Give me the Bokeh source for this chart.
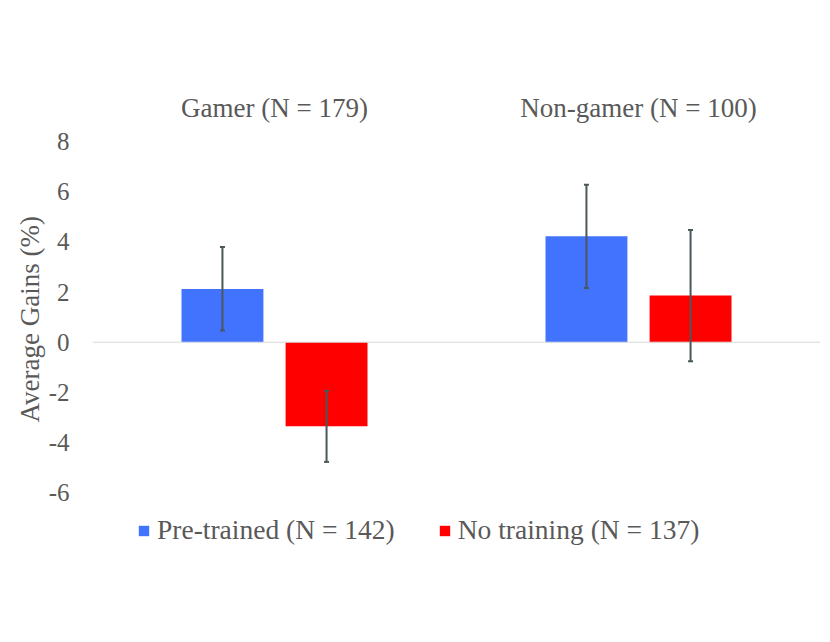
from bokeh.plotting import figure
from bokeh.models import (ColumnDataSource, FactorRange, Range1d, FixedTicker, Span,
                          Whisker, TeeHead, Legend, LegendItem, Title)
from bokeh.transform import dodge
from bokeh.embed import file_html
from bokeh.resources import INLINE

groups = ["Gamer (N = 179)", "Non-gamer (N = 100)"]
pretrained = [2.12, 4.22]
pretrained_lo = [0.47, 2.16]
pretrained_hi = [3.80, 6.28]
notraining = [-3.35, 1.86]
notraining_lo = [-4.77, -0.76]
notraining_hi = [-1.94, 4.47]
series_labels = ["Pre-trained (N = 142)", "No training (N = 137)"]
yticks = [-6, -4, -2, 0, 2, 4, 6, 8]
y_title = "Average Gains (%)"

FONT = "Liberation Serif"
TXT = "#595959"
BLUE = "#4173FF"
RED = "#FF0000"
ERR = "#4B5759"

src = ColumnDataSource(dict(
    g=groups, pt=pretrained, ptlo=pretrained_lo, pthi=pretrained_hi,
    nt=notraining, ntlo=notraining_lo, nthi=notraining_hi))

p = figure(width=828, height=640, x_range=FactorRange(*groups), y_range=Range1d(-8.7, 8),
           output_backend="svg", toolbar_location=None, x_axis_location="above",
           min_border_left=92, min_border_right=8, min_border_top=141, min_border_bottom=80)
p.outline_line_color = None
p.grid.visible = False
p.background_fill_color = "white"

off = 0.143
w = 0.225
r1 = p.vbar(x=dodge("g", -off, range=p.x_range), top="pt", bottom=0, width=w, source=src,
            fill_color=BLUE, line_color=None)
r2 = p.vbar(x=dodge("g", off, range=p.x_range), top="nt", bottom=0, width=w, source=src,
            fill_color=RED, line_color=None)

p.add_layout(Span(location=0, dimension="width", line_color="#D9D9D9", line_width=1))

for base, lo, hi in [(-off, "ptlo", "pthi"), (off, "ntlo", "nthi")]:
    wk = Whisker(base=dodge("g", base, range=p.x_range), lower=lo, upper=hi, source=src,
                 line_color=ERR, line_width=2, level="overlay",
                 upper_head=TeeHead(size=5, line_color=ERR, line_width=2),
                 lower_head=TeeHead(size=5, line_color=ERR, line_width=2))
    p.add_layout(wk)

xa = p.xaxis[0]
xa.axis_line_color = None
xa.major_tick_line_color = None
xa.minor_tick_line_color = None
xa.major_label_text_font = FONT
xa.major_label_text_font_size = "27px"
xa.major_label_text_color = TXT
xa.major_label_standoff = 13

ya = p.yaxis[0]
ya.ticker = FixedTicker(ticks=yticks)
ya.major_label_overrides = {t: str(t) for t in yticks}
ya.axis_line_color = None
ya.major_tick_line_color = None
ya.minor_tick_line_color = None
ya.major_label_text_font = FONT
ya.major_label_text_font_size = "25px"
ya.major_label_text_color = TXT
ya.major_label_standoff = 17

p.add_layout(Title(text=y_title, align="left", offset=138, standoff=2,
                   text_font=FONT, text_font_size="27px", text_font_style="normal",
                   text_color=TXT), "left")

legend = Legend(items=[LegendItem(label=series_labels[0], renderers=[r1]),
                       LegendItem(label=series_labels[1], renderers=[r2])],
                orientation="horizontal", location=(45, 14),
                glyph_width=13, glyph_height=13, label_standoff=7, spacing=43,
                padding=0, margin=0, border_line_color=None, background_fill_alpha=0,
                label_text_font=FONT, label_text_font_size="27.5px", label_text_color=TXT)
p.add_layout(legend)

open("out.html", "w").write(file_html(p, INLINE))
